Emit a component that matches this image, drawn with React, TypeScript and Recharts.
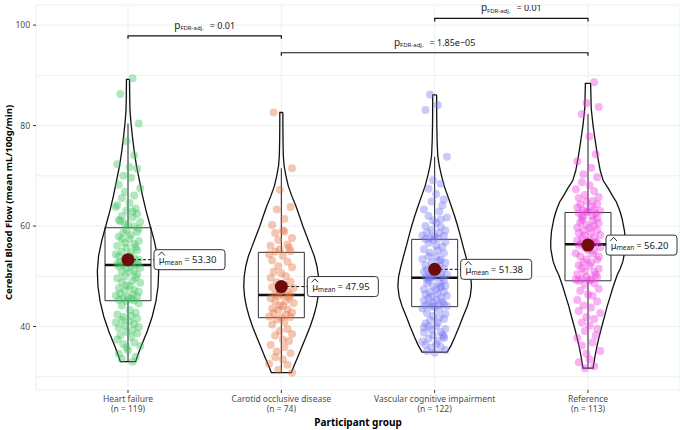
import React from 'react';
import { ComposedChart, Line, Scatter, XAxis, YAxis, CartesianGrid } from 'recharts';

const FONT = '"Noto Sans", "DejaVu Sans", sans-serif';

// ---- categories ----
const GROUPS = ['Heart failure', 'Carotid occlusive disease', 'Vascular cognitive impairment', 'Reference'];
const GROUP_N = [119, 74, 122, 113];
const GROUP_POS = [1, 2, 3, 4];
const COLORS = ['#3CC35C', '#E6703F', '#7878F2', '#EE3EE0'];

// ---- summary statistics ----
const Q1 = [45.13, 41.75, 43.95, 49.1];
const MEDIAN = [52.24, 46.27, 49.7, 56.36];
const Q3 = [59.66, 54.76, 57.35, 62.7];
const WHISKER_LO = [33.0, 30.8, 34.8, 31.7];
const WHISKER_HI = [80.4, 71.5, 73.8, 82.3];
const MEANS = [53.3, 47.95, 51.38, 56.2];
const MEAN_TEXT = ['53.30', '47.95', '51.38', '56.20'];

// ---- axis ticks ----
const Y_TICKS = [30, 40, 50, 60, 70, 80, 90, 100];
const Y_LABELED = [40, 60, 80, 100];

// ---- pairwise comparisons ----
const BRACKET_FROM = [0, 1, 2];
const BRACKET_TO = [1, 3, 3];
const BRACKET_Y = [97.87, 94.49, 101.33];
const BRACKET_P = ['0.01', '1.85e\u221205', '0.01'];

// ---- observations (CBF, mean mL/100g/min) ----
const HF_CBF = [
  89.4, 86.3, 80.4, 76.9, 74.1, 72.3, 71.7, 71.4, 70.0, 69.6, 68.2, 67.5, 66.8, 66.1, 65.6, 64.6, 64.2, 63.5, 63.1, 62.4,
  62.0, 61.7, 61.2, 60.8, 60.5, 60.2, 59.9, 63.8, 62.9, 61.0,
  59.5, 59.1, 58.8, 58.7, 58.2, 57.9, 57.5, 57.4, 57.0, 56.6, 56.4, 56.1, 55.8, 55.7, 55.2, 54.9, 54.8, 54.4, 54.1, 54.0,
  53.6, 53.4, 53.3, 52.9, 52.8, 52.6, 52.5, 52.4, 52.3, 52.2,
  52.0, 51.7, 51.6, 51.1, 50.9, 50.8, 50.3, 50.0, 49.7, 49.6, 49.1, 48.8, 48.7, 48.2, 48.0, 47.6, 47.3, 47.2, 46.9, 46.5,
  46.4, 46.1, 45.9, 45.8, 45.6, 45.5, 45.3, 45.2, 45.1,
  44.6, 44.2, 43.3, 42.8, 42.4, 42.1, 41.9, 41.6, 41.3, 41.0, 40.8, 40.5, 40.2, 39.9, 39.7, 39.3, 38.9, 38.6, 38.2, 37.9,
  37.4, 36.8, 36.5, 36.1, 35.8, 35.2, 34.6, 34.0, 33.6, 33.0,
];
const CA_CBF = [
  82.6, 71.5, 67.2, 63.8, 63.3, 61.4, 60.2, 59.1, 58.6, 57.6, 57.2, 56.3, 56.1, 55.7, 55.4, 55.0, 54.9, 58.9,
  54.4, 54.1, 53.2, 52.9, 52.0, 51.8, 50.9, 50.6, 50.0, 49.7, 48.9, 48.8, 48.3, 47.8, 47.6, 47.0, 46.9, 46.4, 46.3,
  46.2, 46.1, 45.7, 45.6, 45.1, 45.0, 44.7, 44.2, 44.1, 43.6, 43.4, 43.3, 42.8, 42.7, 42.3, 42.0, 41.9, 41.8,
  41.4, 40.9, 40.4, 39.5, 39.1, 38.5, 38.2, 37.4, 37.1, 36.3, 35.9, 35.0, 34.7, 33.9, 33.5, 32.6, 32.4, 31.4, 30.8,
];
const VA_CBF = [
  86.2, 84.1, 83.1, 73.8, 69.1, 68.4, 67.4, 66.4, 65.3, 64.9, 64.1, 63.3, 62.9, 62.0, 61.7, 61.1, 60.6, 60.0, 59.8, 59.2,
  59.1, 58.7, 58.6, 58.1, 58.0, 57.9, 57.6, 57.5, 57.4, 61.3,
  57.2, 56.8, 56.6, 56.1, 55.9, 55.4, 55.2, 54.7, 54.6, 54.0, 53.9, 53.4, 53.3, 52.8, 52.7, 52.2, 52.1, 51.6, 51.5, 51.3,
  51.0, 50.9, 50.5, 50.4, 50.3, 50.0, 49.9, 49.8, 49.75, 49.7, 53.1,
  49.6, 49.2, 49.1, 48.7, 48.6, 48.1, 48.0, 47.8, 47.4, 47.3, 46.9, 46.8, 46.5, 46.4, 46.1, 46.0, 45.7, 45.6, 45.3, 45.2,
  44.9, 44.8, 44.5, 44.4, 44.3, 44.2, 44.1, 44.0, 43.95, 47.9,
  43.6, 43.3, 42.7, 42.5, 42.1, 41.5, 41.3, 40.7, 40.6, 40.1, 40.0, 39.5, 39.4, 38.9, 38.8, 38.3, 38.2, 37.7, 37.6, 37.1,
  37.0, 36.5, 36.4, 35.9, 35.8, 35.3, 35.1, 34.8, 41.8, 39.8, 38.0,
];
const RE_CBF = [
  88.6, 84.5, 83.7, 82.3, 77.8, 74.3, 72.9, 71.6, 70.3, 69.7, 68.7, 68.1, 67.3, 66.9, 66.2, 65.8, 65.6, 65.0, 64.9, 64.4,
  64.3, 63.8, 63.7, 63.3, 63.2, 63.0, 62.9, 62.8,
  62.6, 62.5, 62.1, 62.0, 61.7, 61.6, 61.2, 61.1, 60.7, 60.6, 60.2, 60.1, 59.7, 59.6, 59.2, 59.1, 58.7, 58.6, 58.2, 58.1,
  57.7, 57.6, 57.2, 57.1, 56.8, 56.7, 56.6, 56.5, 56.4,
  56.2, 55.8, 55.7, 55.2, 55.1, 54.6, 54.5, 54.0, 53.9, 53.4, 53.3, 52.8, 52.7, 52.2, 52.1, 51.6, 51.5, 51.0, 50.9, 50.4,
  50.3, 49.9, 49.8, 49.5, 49.4, 49.3, 49.2, 49.1,
  48.6, 48.3, 47.5, 47.1, 46.4, 46.1, 45.3, 45.0, 44.2, 43.8, 43.1, 42.7, 41.9, 41.5, 40.8, 40.2, 39.5, 39.1, 38.2, 37.7,
  36.8, 36.2, 35.1, 34.6, 33.5, 32.9, 32.1, 31.7,
];
const CBF = [HF_CBF, CA_CBF, VA_CBF, RE_CBF];

// horizontal jitter of each observation (in category units)
const JITTER = [
  0.03, -0.05, 0.07, -0.01, 0.04, -0.07, 0.01, 0.06, -0.03, 0.02, -0.06, 0.08, -0.02, 0.04, -0.04, 0.01, -0.07, 0.05, -0.01, 0.06,
  -0.04, 0.03, -0.06, 0.08, -0.02, 0.0, 0.04, -0.08, 0.03, -0.05, 0.07, -0.01, 0.06, -0.03, 0.02, -0.06, 0.01, -0.04, 0.07, -0.02,
  0.04, -0.07, 0.05, -0.01, 0.06, -0.04, 0.02, -0.08, 0.01, -0.06, 0.04, -0.02, 0.07, -0.05, 0.0, 0.03, -0.07, 0.06, -0.03, 0.02,
  -0.06, 0.08, -0.01, 0.04, -0.04, 0.01, 0.06, -0.02, 0.05, -0.07, 0.03, -0.04, 0.08, -0.01, 0.01, -0.06, 0.04, -0.02, 0.07, -0.05,
  0.03, -0.08, 0.06, 0.0, -0.03, 0.02, -0.06, 0.04, -0.01, 0.07, -0.04, 0.01, 0.05, -0.07, 0.02, -0.03, 0.06, -0.04, 0.01, -0.08,
  0.04, -0.02, 0.07, -0.06, 0.03, -0.01, 0.06, -0.05, 0.02, -0.07, 0.04, -0.03, 0.08, -0.01, 0.0, -0.06, 0.05, -0.04, 0.03, -0.03,
  0.06, -0.04,
];

// ---- violin outlines: density half-width (category units) at each CBF level ----
const HF_VIOLIN_Y = [89.2, 86, 83, 81, 78, 75, 72, 69, 66, 63, 60, 57, 54, 51, 48, 45, 42, 39, 36, 34, 33];
const HF_VIOLIN_W = [0.01, 0.011, 0.013, 0.018, 0.028, 0.04, 0.055, 0.075, 0.095, 0.118, 0.145, 0.172, 0.192, 0.2, 0.196, 0.182, 0.158, 0.125, 0.085, 0.06, 0.05];
const CA_VIOLIN_Y = [82.6, 80, 77, 74, 72, 70, 68, 66, 64, 62, 60, 58, 56, 54, 52, 50, 48, 46, 44, 42, 40, 38, 36, 34, 32, 30.8];
const CA_VIOLIN_W = [0.01, 0.01, 0.011, 0.013, 0.018, 0.03, 0.045, 0.068, 0.095, 0.118, 0.14, 0.165, 0.19, 0.215, 0.232, 0.242, 0.245, 0.24, 0.228, 0.21, 0.188, 0.162, 0.135, 0.108, 0.08, 0.065];
const VA_VIOLIN_Y = [86.1, 83, 80, 77, 74, 72, 70, 68, 66, 64, 62, 60, 58, 56, 54, 52, 50, 48, 46, 44, 42, 40, 38, 36.3, 34.9];
const VA_VIOLIN_W = [0.013, 0.013, 0.014, 0.016, 0.02, 0.03, 0.045, 0.062, 0.085, 0.108, 0.13, 0.15, 0.168, 0.185, 0.203, 0.22, 0.235, 0.24, 0.232, 0.212, 0.185, 0.16, 0.133, 0.108, 0.082];
const RE_VIOLIN_Y = [88.4, 86, 83.4, 80, 77, 74, 71, 69, 67.6, 66, 64.8, 63, 61.5, 59, 57, 55.5, 53, 51.5, 50.2, 48, 46, 44, 42, 40, 38, 36, 34, 33, 31.7];
const RE_VIOLIN_W = [0.017, 0.019, 0.021, 0.033, 0.047, 0.062, 0.08, 0.1, 0.13, 0.16, 0.185, 0.208, 0.222, 0.238, 0.243, 0.243, 0.228, 0.21, 0.19, 0.165, 0.145, 0.125, 0.108, 0.09, 0.073, 0.058, 0.045, 0.04, 0.033];
const VIOLIN_Y = [HF_VIOLIN_Y, CA_VIOLIN_Y, VA_VIOLIN_Y, RE_VIOLIN_Y];
const VIOLIN_W = [HF_VIOLIN_W, CA_VIOLIN_W, VA_VIOLIN_W, RE_VIOLIN_W];

// ---- styling constants ----
const BOX_HALF = 0.15;
const BRACKET_TICK = 0.6;
const MEAN_LABEL_NUDGE = [26, 26, 26, 18];

// ---- derived tables for the library ----
const violinData = (g: number) => {
  const c = GROUP_POS[g];
  const ys = VIOLIN_Y[g];
  const ws = VIOLIN_W[g];
  const right = ys.map((y, i) => ({ x: c + ws[i], y }));
  const left = ys.map((y, i) => ({ x: c - ws[i], y })).reverse();
  return [...right, ...left, right[0]];
};
const boxData = (g: number) => {
  const c = GROUP_POS[g];
  return [
    { x: c - BOX_HALF, y: Q1[g] },
    { x: c + BOX_HALF, y: Q1[g] },
    { x: c + BOX_HALF, y: Q3[g] },
    { x: c - BOX_HALF, y: Q3[g] },
    { x: c - BOX_HALF, y: Q1[g] },
  ];
};
const medianData = (g: number) => [
  { x: GROUP_POS[g] - BOX_HALF, y: MEDIAN[g] },
  { x: GROUP_POS[g] + BOX_HALF, y: MEDIAN[g] },
];
const whiskerHiData = (g: number) => [
  { x: GROUP_POS[g], y: Q3[g] },
  { x: GROUP_POS[g], y: WHISKER_HI[g] },
];
const whiskerLoData = (g: number) => [
  { x: GROUP_POS[g], y: Q1[g] },
  { x: GROUP_POS[g], y: WHISKER_LO[g] },
];
const pointData = (g: number) =>
  CBF[g].map((v, i) => ({ x: GROUP_POS[g] + JITTER[(i + g * 29) % JITTER.length], y: v }));
const meanData = GROUP_POS.map((c, g) => ({ x: c, y: MEANS[g], text: MEAN_TEXT[g], nudge: MEAN_LABEL_NUDGE[g] }));
const bracketData = (b: number) => {
  const x1 = GROUP_POS[BRACKET_FROM[b]];
  const x2 = GROUP_POS[BRACKET_TO[b]];
  const y = BRACKET_Y[b];
  return [
    { x: x1, y: y - BRACKET_TICK },
    { x: x1, y },
    { x: x2, y },
    { x: x2, y: y - BRACKET_TICK },
  ];
};
const bracketLabelData = BRACKET_FROM.map((f, b) => ({
  x: (GROUP_POS[f] + GROUP_POS[BRACKET_TO[b]]) / 2,
  y: BRACKET_Y[b],
  p: BRACKET_P[b],
}));

// ---- custom renderers ----
const YTick = (props: any) => {
  const { x, y, payload } = props;
  if (!Y_LABELED.includes(payload.value)) return <g />;
  return (
    <g>
      <line x1={x - 3} x2={x} y1={y} y2={y} stroke="#333" strokeWidth={1} />
      <text x={x - 6} y={y + 3} textAnchor="end" fontSize={8.5} fontFamily={FONT} fill="#4D4D4D">
        {payload.value}
      </text>
    </g>
  );
};

const XTick = (props: any) => {
  const { x, y, payload } = props;
  const i = GROUP_POS.indexOf(payload.value);
  return (
    <g>
      <line x1={x} x2={x} y1={y} y2={y + 3} stroke="#333" strokeWidth={1} />
      <text x={x} y={y + 12.3} textAnchor="middle" fontSize={8.5} fontFamily={FONT} fill="#4D4D4D">
        {GROUPS[i]}
      </text>
      <text x={x} y={y + 22.3} textAnchor="middle" fontSize={8.5} fontFamily={FONT} fill="#4D4D4D">
        (n = {GROUP_N[i]})
      </text>
    </g>
  );
};

const MeanLabel = (props: any) => {
  const { cx, cy, payload } = props;
  const lx = cx + payload.nudge;
  return (
    <g>
      <line x1={cx} y1={cy} x2={lx} y2={cy} stroke="#111" strokeWidth={1} strokeDasharray="3 2" />
      <rect x={lx} y={cy - 10} width={71} height={20} rx={3} ry={3} fill="#fff" stroke="#333" strokeWidth={1} />
      <path
        d={`M${lx + 4.3},${cy - 4.2} L${lx + 7.6},${cy - 7.8} L${lx + 10.9},${cy - 4.2}`}
        fill="none"
        stroke="#1a1a1a"
        strokeWidth={0.9}
      />
      <text x={lx + 4.8} y={cy + 3.5} fontFamily={FONT} fontSize={9.5} fill="#1a1a1a">
        <tspan>μ</tspan>
        <tspan fontSize={6.5} dy={1.8}>mean</tspan>
        <tspan dy={-1.8} dx={2}>= {payload.text}</tspan>
      </text>
    </g>
  );
};

const MeanDot = (props: any) => {
  const { cx, cy } = props;
  return <circle cx={cx} cy={cy} r={6.5} fill="#6E0B0B" />;
};

const BracketLabel = (props: any) => {
  const { cx, cy, payload } = props;
  return (
    <text x={cx} y={cy - 7} textAnchor="middle" fontFamily={FONT} fill="#1a1a1a">
      <tspan fontSize={10}>p</tspan>
      <tspan fontSize={6} dy={1.5}>FDR-adj.</tspan>
      <tspan fontSize={9} dy={-1.5} dx={6}>= {payload.p}</tspan>
    </text>
  );
};

const makePoint = (color: string) => (props: any) => (
  <circle cx={props.cx} cy={props.cy} r={4} fill={color} fillOpacity={0.4} />
);

const YTitle = (props: any) => {
  const vb = props.viewBox;
  const cx = vb.x + 11.5;
  const cy = vb.y + vb.height / 2 + 5;
  return (
    <text
      x={cx}
      y={cy}
      transform={`rotate(-90, ${cx}, ${cy})`}
      textAnchor="middle"
      fontFamily={FONT}
      fontSize={9.5}
      fontWeight="bold"
      fill="#000"
    >
      Cerebral Blood Flow (mean mL/100g/min)
    </text>
  );
};

const XTitle = (props: any) => {
  const vb = props.viewBox;
  return (
    <text
      x={vb.x + vb.width / 2}
      y={vb.y + 36}
      textAnchor="middle"
      fontFamily={FONT}
      fontSize={10}
      fontWeight="bold"
      fill="#000"
    >
      Participant group
    </text>
  );
};

const lineProps = {
  isAnimationActive: false,
  dot: false,
  activeDot: false,
  type: 'linear' as const,
  dataKey: 'y',
  legendType: 'none' as const,
};

export default function App() {
  return (
    <div style={{ position: 'absolute', left: 0, top: 0, width: 680, height: 430, background: '#fff' }}>
      <ComposedChart width={680} height={430} margin={{ top: 5, right: 0, bottom: 0, left: 0 }}>
        <CartesianGrid stroke="#EBF0F0" strokeWidth={1} />
        <XAxis
          type="number"
          dataKey="x"
          domain={[0.4, 4.6]}
          allowDataOverflow
          ticks={GROUP_POS}
          interval={0}
          height={40}
          axisLine={false}
          tickLine={false}
          tickSize={0}
          tickMargin={0}
          tick={<XTick />}
          label={{ content: <XTitle /> } as any}
        />
        <YAxis
          type="number"
          domain={[27.36, 104]}
          allowDataOverflow
          ticks={Y_TICKS}
          interval={0}
          width={36}
          axisLine={false}
          tickLine={false}
          tickSize={0}
          tickMargin={0}
          tick={<YTick />}
          label={{ content: <YTitle /> } as any}
        />

        {GROUP_POS.map((c, g) => (
          <Scatter
            key={`pts-${g}`}
            data={pointData(g)}
            dataKey="y"
            isAnimationActive={false}
            shape={makePoint(COLORS[g])}
            legendType="none"
          />
        ))}

        {GROUP_POS.map((c, g) => (
          <Line key={`box-${g}`} {...lineProps} data={boxData(g)} stroke="#333" strokeWidth={1} />
        ))}
        {GROUP_POS.map((c, g) => (
          <Line key={`vio-${g}`} {...lineProps} data={violinData(g)} stroke="#111" strokeWidth={1.3} />
        ))}
        {GROUP_POS.map((c, g) => (
          <Line key={`whi-${g}`} {...lineProps} data={whiskerHiData(g)} stroke="#222" strokeWidth={1} />
        ))}
        {GROUP_POS.map((c, g) => (
          <Line key={`wlo-${g}`} {...lineProps} data={whiskerLoData(g)} stroke="#222" strokeWidth={1} />
        ))}
        {GROUP_POS.map((c, g) => (
          <Line key={`med-${g}`} {...lineProps} data={medianData(g)} stroke="#111" strokeWidth={2.6} />
        ))}

        <Scatter data={meanData} dataKey="y" isAnimationActive={false} shape={<MeanLabel />} legendType="none" />
        <Scatter data={meanData} dataKey="y" isAnimationActive={false} shape={<MeanDot />} legendType="none" />

        {BRACKET_FROM.map((f, b) => (
          <Line key={`br-${b}`} {...lineProps} data={bracketData(b)} stroke="#111" strokeWidth={1.2} />
        ))}
        <Scatter data={bracketLabelData} dataKey="y" isAnimationActive={false} shape={<BracketLabel />} legendType="none" />
      </ComposedChart>
    </div>
  );
}
